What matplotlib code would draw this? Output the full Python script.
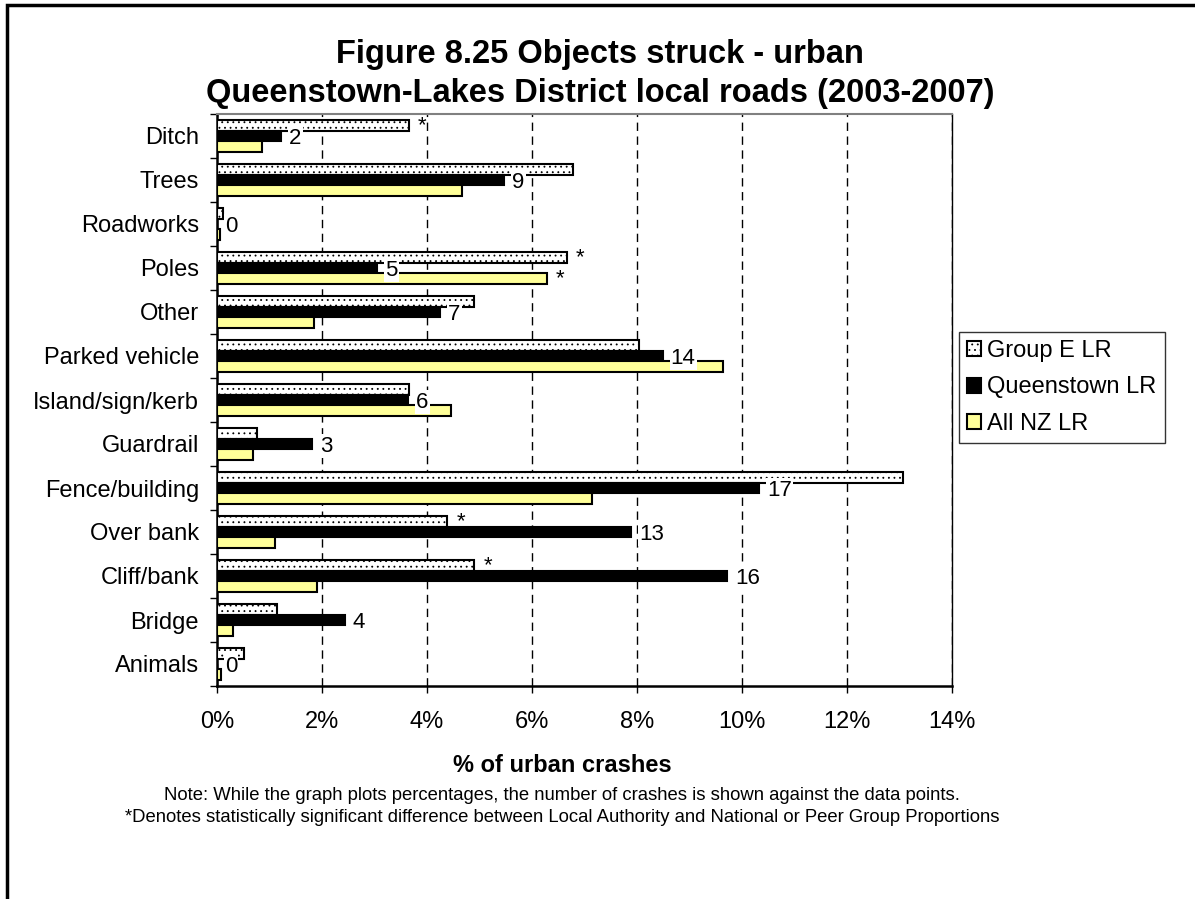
import numpy as np
import matplotlib
matplotlib.use("Agg")
import matplotlib.pyplot as plt
from matplotlib.patches import Rectangle

plt.rcParams['font.family'] = ['Liberation Sans', 'DejaVu Sans']
plt.rcParams['hatch.linewidth'] = 0.6

# data (% of urban crashes)
categories = ['Ditch', 'Trees', 'Roadworks', 'Poles', 'Other', 'Parked vehicle',
              'Island/sign/kerb', 'Guardrail', 'Fence/building', 'Over bank',
              'Cliff/bank', 'Bridge', 'Animals']
group_e = [3.66, 6.78, 0.12, 6.67, 4.90, 8.04, 3.66, 0.76, 13.07, 4.39, 4.90, 1.14, 0.51]
queenstown = [1.22, 5.47, 0.0, 3.05, 4.25, 8.49, 3.64, 1.81, 10.32, 7.89, 9.71, 2.43, 0.0]
all_nz = [0.86, 4.67, 0.06, 6.28, 1.85, 9.64, 4.46, 0.69, 7.14, 1.10, 1.90, 0.30, 0.08]
counts = [2, 9, 0, 5, 7, 14, 6, 3, 17, 13, 16, 4, 0]
star_group_e = ['Ditch', 'Poles', 'Over bank', 'Cliff/bank']
star_nz = ['Poles']
xticks = [0, 2, 4, 6, 8, 10, 12, 14]

fig = plt.figure(figsize=(11.95, 8.99), dpi=100)
ax = fig.add_axes([217/1195, 1-686/899, (952-217)/1195, (686-114)/899])

y = np.arange(len(categories))
h = 0.235
b1 = ax.barh(y - h, group_e, height=h, color='white', edgecolor='black',
             hatch='...', linewidth=1.5, label='Group E LR', zorder=3)
b2 = ax.barh(y, queenstown, height=h, color='black', edgecolor='black',
             linewidth=1.5, label='Queenstown LR', zorder=3)
b3 = ax.barh(y + h, all_nz, height=h, color='#ffff99', edgecolor='black',
             linewidth=1.5, label='All NZ LR', zorder=3)

# crash counts next to the Queenstown bars
for yi, v, c in zip(y, queenstown, counts):
    ax.annotate(str(c), (v, yi), xytext=(8, -2), textcoords='offset pixels',
                ha='left', va='center', fontsize=16, zorder=5,
                bbox=dict(boxstyle='square,pad=0.05', fc='white', ec='none'))

# significance stars
for cat in star_group_e:
    i = categories.index(cat)
    ax.annotate('*', (group_e[i], i - h), xytext=(9, 0), textcoords='offset pixels',
                ha='left', va='center', fontsize=16, zorder=5)
for cat in star_nz:
    i = categories.index(cat)
    ax.annotate('*', (all_nz[i], i + h), xytext=(9, 0), textcoords='offset pixels',
                ha='left', va='center', fontsize=16, zorder=5)

ax.set_xlim(0, 14)
ax.set_ylim(len(categories) - 0.5, -0.5)
ax.set_xticks(xticks)
ax.set_xticklabels([f'{t}%' for t in xticks], fontsize=17)
ax.set_yticks(y)
ax.set_yticklabels(categories, fontsize=17)
ax.set_yticks(np.arange(-0.5, len(categories)), minor=True)
ax.tick_params(axis='y', which='major', length=0, pad=13)
ax.tick_params(axis='y', which='minor', length=5, width=1, direction='out')
ax.tick_params(axis='x', length=5, width=1, direction='out', pad=13)

ax.grid(axis='x', color='black', linestyle=(0, (6, 4)), linewidth=1, zorder=1)
ax.set_axisbelow(True)
for s in ['left', 'bottom']:
    ax.spines[s].set_linewidth(1.8)
    ax.spines[s].set_color('black')
ax.spines['top'].set_color('#808080')
ax.spines['top'].set_linewidth(1.5)
ax.spines['right'].set_color('black')
ax.spines['right'].set_linewidth(1)

fig.text(600/1195, 1-63/899, 'Figure 8.25 Objects struck - urban',
         ha='center', va='baseline', fontsize=23.5, fontweight='bold')
fig.text(600/1195, 1-102/899, 'Queenstown-Lakes District local roads (2003-2007)',
         ha='center', va='baseline', fontsize=23.5, fontweight='bold')

fig.text(562/1195, 1-766/899, '% of urban crashes', ha='center', va='center',
         fontsize=17, fontweight='bold')
fig.text(562/1195, 1-795/899,
         'Note: While the graph plots percentages, the number of crashes is shown against the data points.',
         ha='center', va='center', fontsize=13.3)
fig.text(562/1195, 1-818/899,
         '*Denotes statistically significant difference between Local Authority and National or Peer Group Proportions',
         ha='center', va='center', fontsize=13.3)

leg = fig.legend(handles=[b1, b2, b3], loc='upper left',
                 bbox_to_anchor=(959/1195, 1-332/899), fontsize=17,
                 frameon=True, fancybox=False, edgecolor='black',
                 handlelength=0.6, handleheight=0.6, handletextpad=0.25,
                 borderpad=0.35, labelspacing=0.6, borderaxespad=0)
leg.get_frame().set_linewidth(1)

# outer chart border (cut off on the right and bottom)
fig.patches.append(Rectangle((7/1195, -0.2), 1.3, 1.2 - 5/899, transform=fig.transFigure,
                             fill=False, edgecolor='black', linewidth=2.5))

fig.savefig('out.png', dpi=100)
